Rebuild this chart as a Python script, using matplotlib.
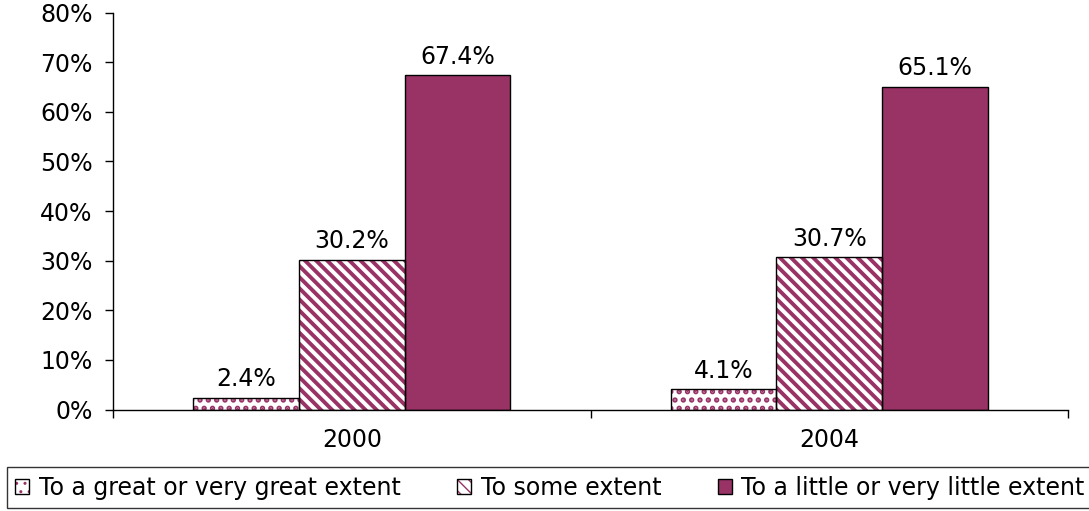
import matplotlib
matplotlib.use("Agg")
import matplotlib.pyplot as plt
from matplotlib.patches import Patch
from matplotlib.legend_handler import HandlerTuple
import numpy as np

years = ["2000", "2004"]
series_names = [
    "To a great or very great extent",
    "To some extent",
    "To a little or very little extent",
]
great = [2.4, 4.1]
some = [30.2, 30.7]
little = [67.4, 65.1]
y_ticks = [0, 10, 20, 30, 40, 50, 60, 70, 80]

PLUM = "#993366"
FS = 17

plt.rcParams["font.family"] = ["DejaVu Sans"]

fig = plt.figure(figsize=(10.89, 5.11), dpi=100)
ax = fig.add_axes([113 / 1089, 1 - 409.5 / 511, 955 / 1089, 396.8 / 511])

centers = np.arange(len(years)) + 0.5
bw = 0.221
offsets = [-bw, 0.0, bw]
styles = [
    dict(hatch="..", face="white", hcolor=PLUM, hlw=2.6),
    dict(hatch="\\\\\\", face="white", hcolor=PLUM, hlw=2.8),
    dict(hatch=None, face=PLUM, hcolor=PLUM, hlw=1.0),
]
handles = []
for vals, off, st in zip([great, some, little], offsets, styles):
    xs = centers + off
    with plt.rc_context({"hatch.linewidth": st["hlw"]}):
        fill = ax.bar(xs, vals, bw, facecolor=st["face"], edgecolor=st["hcolor"],
                      hatch=st["hatch"], linewidth=0, zorder=2)
        for p in fill:
            if hasattr(p, "set_hatch_linewidth"):
                p.set_hatch_linewidth(st["hlw"])
    ax.bar(xs, vals, bw, fill=False, edgecolor="black", linewidth=1.0, zorder=3)
    for x, v in zip(xs, vals):
        ax.annotate(f"{v:.1f}%", (x, v), xytext=(0, 4.5), textcoords="offset points",
                    ha="center", va="bottom", fontsize=FS, color="black")
    with plt.rc_context({"hatch.linewidth": st["hlw"]}):
        h_fill = Patch(facecolor=st["face"], edgecolor=st["hcolor"],
                       hatch=st["hatch"], linewidth=0)
        if hasattr(h_fill, "set_hatch_linewidth"):
            h_fill.set_hatch_linewidth(st["hlw"])
    h_edge = Patch(fill=False, edgecolor="black", linewidth=1.0)
    handles.append((h_fill, h_edge))

ax.set_xlim(0, len(years))
ax.set_ylim(0, 80)
ax.set_yticks(y_ticks)
ax.set_yticklabels([f"{t}%" for t in y_ticks], fontsize=FS)
ax.set_xticks(centers)
ax.set_xticklabels(years, fontsize=FS)
ax.set_xticks(np.arange(len(years) + 1), minor=True)
ax.tick_params(axis="x", which="major", length=0, pad=13)
ax.tick_params(axis="x", which="minor", length=5.8, width=1, direction="out")
ax.tick_params(axis="y", length=5.8, width=1, direction="out", pad=9)

for side in ["top", "right"]:
    ax.spines[side].set_visible(False)
for side in ["left", "bottom"]:
    ax.spines[side].set_linewidth(1.0)
    ax.spines[side].set_color("black")

leg = fig.legend(handles, series_names, ncol=3, loc="lower left", mode="expand",
                 bbox_to_anchor=(7 / 1089, 1 - 508 / 511, 1086 / 1089, 39 / 511),
                 handler_map={tuple: HandlerTuple(ndivide=1)},
                 fontsize=FS, frameon=True, fancybox=False,
                 handlelength=0.6, handleheight=0.6, handletextpad=0.4,
                 borderpad=0.35, borderaxespad=0)
leg.get_frame().set_edgecolor("black")
leg.get_frame().set_linewidth(1.0)

fig.savefig("out.png", dpi=100)
